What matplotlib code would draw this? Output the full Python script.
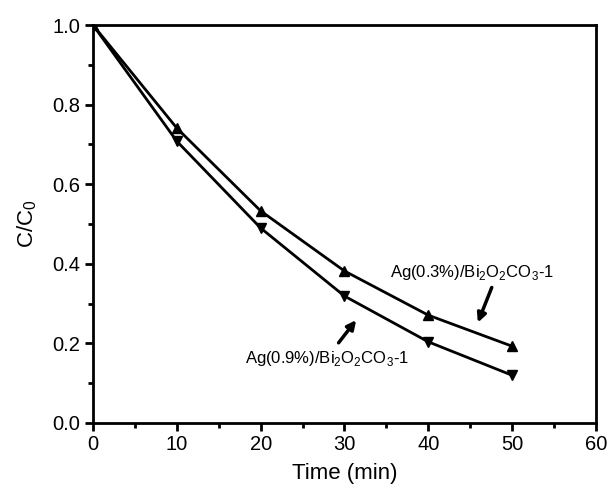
import matplotlib
matplotlib.use("Agg")
import matplotlib.pyplot as plt
from matplotlib.ticker import MultipleLocator

plt.rcParams['font.family'] = ['Liberation Sans', 'DejaVu Sans']
plt.rcParams['mathtext.fontset'] = 'custom'
plt.rcParams['mathtext.rm'] = 'Liberation Sans'

time = [0, 10, 20, 30, 40, 50]
ag03 = [1.0, 0.741, 0.533, 0.382, 0.271, 0.193]
ag09 = [1.0, 0.708, 0.490, 0.319, 0.204, 0.120]

label03 = r'Ag(0.3%)/Bi$_\mathregular{2}$O$_\mathregular{2}$CO$_\mathregular{3}$-1'
label09 = r'Ag(0.9%)/Bi$_\mathregular{2}$O$_\mathregular{2}$CO$_\mathregular{3}$-1'

fig = plt.figure(figsize=(6.08, 4.91), dpi=100)
ax = fig.add_axes([0.153, 0.1385, 0.827, 0.8105])

ax.plot(time, ag03, color='black', lw=2, marker='^', ms=7)
ax.plot(time, ag09, color='black', lw=2, marker='v', ms=7)

ax.set_xlim(0, 60)
ax.set_ylim(0, 1.0)
ax.xaxis.set_major_locator(MultipleLocator(10))
ax.xaxis.set_minor_locator(MultipleLocator(5))
ax.yaxis.set_major_locator(MultipleLocator(0.2))
ax.yaxis.set_minor_locator(MultipleLocator(0.1))
ax.tick_params(which='major', direction='out', length=6, width=2, labelsize=14.5, pad=3)
ax.tick_params(which='minor', direction='out', length=3.5, width=2)
for s in ax.spines.values():
    s.set_linewidth(2)

ax.set_xlabel('Time (min)', fontsize=16, labelpad=6)
ax.set_ylabel(r'C/C$_\mathregular{0}$', fontsize=16, labelpad=10)

ax.text(35.4, 0.379, label03, fontsize=12, va='center')
ax.annotate('', xy=(45.8, 0.246), xytext=(47.7, 0.347),
            arrowprops=dict(arrowstyle='-|>', color='black', lw=2.5, mutation_scale=13))
ax.text(18.1, 0.163, label09, fontsize=12, va='center')
ax.annotate('', xy=(31.6, 0.264), xytext=(29.1, 0.196),
            arrowprops=dict(arrowstyle='-|>', color='black', lw=2.5, mutation_scale=13))

fig.savefig('out.png', dpi=100)
